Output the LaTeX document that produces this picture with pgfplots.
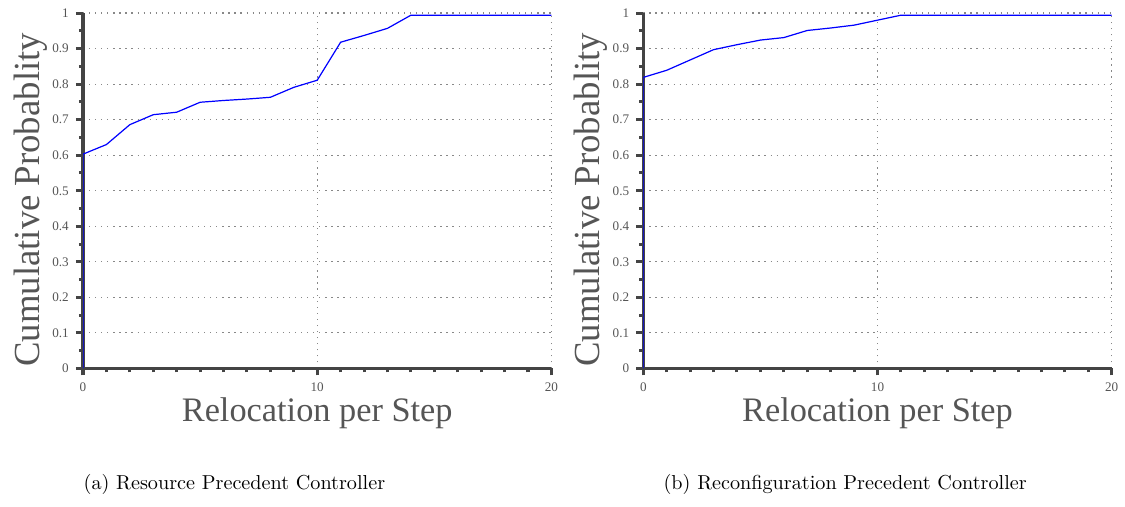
\documentclass[border=0pt]{standalone}
\usepackage{fontspec}
\newfontfamily\tnr{Liberation Serif}
\usepackage{pgfplots}
\pgfplotsset{compat=1.18}
\definecolor{axgray}{HTML}{444444}
\definecolor{txtgray}{HTML}{555555}
\definecolor{gridgray}{HTML}{888888}

\pgfplotsset{cdf/.style={
    scale only axis, width=232pt, height=176pt,
    xmin=0, xmax=20, ymin=0, ymax=1,
    axis x line*=bottom, axis y line*=left,
    axis line style={axgray, line width=1.5pt, -},
    xtick={0,10,20}, minor x tick num=9,
    ytick={0,0.1,...,1.01}, minor y tick num=1,
    tick style={axgray, line width=1.5pt},
    tick align=outside,
    major tick length=3.5pt, minor tick length=2pt,
    grid=major,
    major grid style={gridgray, line width=0.6pt, dash pattern=on 0.6pt off 2.4pt},
    ticklabel style={font=\tnr\fontsize{6.5}{7}\selectfont, text=txtgray},
    /pgf/number format/assume math mode=true,
    yticklabel style={/pgf/number format/fixed, /pgf/number format/precision=1},
    xlabel={Relocation per Step},
    ylabel={Cumulative Probablity},
    every axis x label/.style={at={(axis description cs:0.5,0)}, anchor=center,
      yshift=-22pt, font=\tnr\fontsize{17}{19}\selectfont, text=txtgray},
    every axis y label/.style={at={(axis description cs:0,0.5)}, anchor=center,
      rotate=90, yshift=26pt, xshift=-4.5pt, font=\tnr\fontsize{18.2}{20}\selectfont, text=txtgray},
  }}

\begin{document}
\begin{tikzpicture}
  \begin{axis}[cdf, name=a]
    \addplot[blue, line width=0.6pt] coordinates {
      (0,0) (0,0.603) (1,0.630) (2,0.686) (3,0.714) (4,0.721) (5,0.749)
      (6,0.754) (7,0.758) (8,0.763) (9,0.791) (10,0.811) (11,0.918)
      (12,0.937) (13,0.957) (14,0.994) (20,0.994)};
  \end{axis}
  \begin{axis}[cdf, name=b, at={(277.5pt,0pt)}]
    \addplot[blue, line width=0.6pt] coordinates {
      (0,0) (0,0.819) (1,0.839) (2,0.868) (3,0.897) (4,0.911) (5,0.924)
      (6,0.931) (7,0.951) (8,0.958) (9,0.966) (10,0.980) (11,0.994)
      (20,0.994)};
  \end{axis}
  \node at ([xshift=75pt, yshift=-57.5pt]a.south west) {(a) Resource Precedent Controller};
  \node at ([xshift=100pt, yshift=-57.5pt]b.south west) {(b) Reconfiguration Precedent Controller};
  \path (current bounding box.west) ++(-3.5pt,0) coordinate (padl);
  \path (current bounding box.south) ++(0,-2.5pt) coordinate (padb);
  \path (current bounding box.north) ++(0,1pt) coordinate (padt);
  \path (padl) circle (0pt) (padb) circle (0pt) (padt) circle (0pt);
\end{tikzpicture}
\end{document}
